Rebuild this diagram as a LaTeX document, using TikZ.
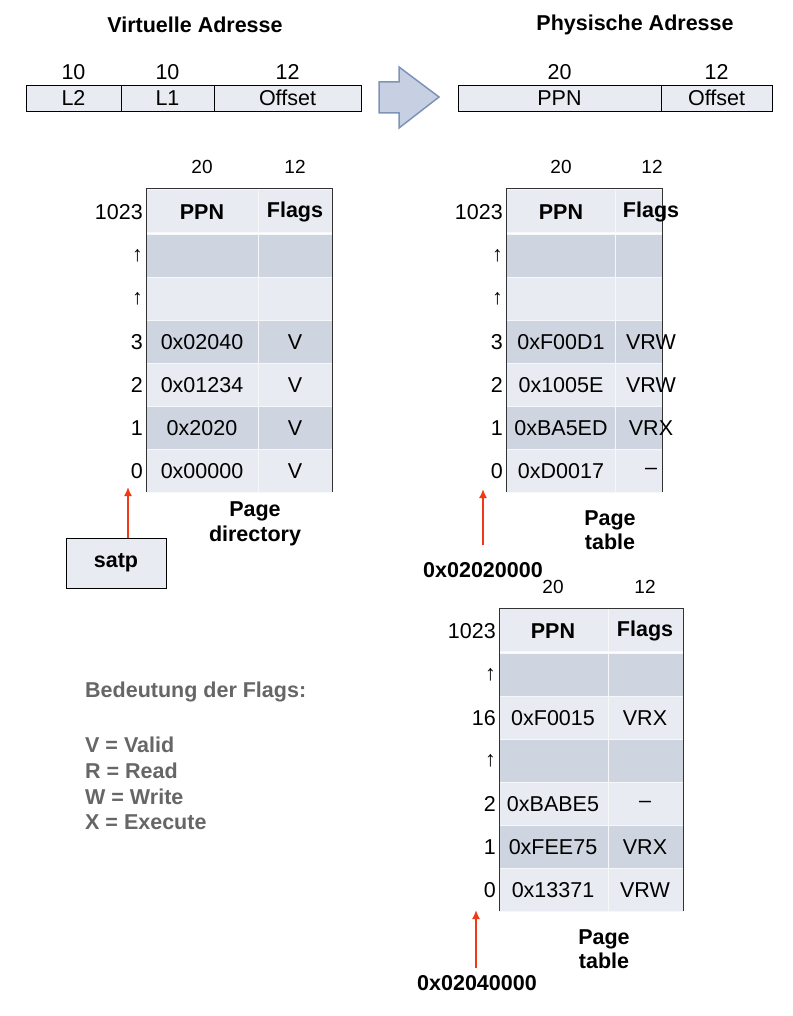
\documentclass[tikz,border=0pt]{standalone}
\usepackage{fontspec}
\setmainfont{Liberation Sans}
\usetikzlibrary{arrows.meta}
\definecolor{cellL}{HTML}{E8EBF1}
\definecolor{cellD}{HTML}{CFD5E0}
\definecolor{redA}{HTML}{F03A17}
\definecolor{arrF}{HTML}{C7D0E2}
\definecolor{arrD}{HTML}{7E93B8}
\begin{document}
\begin{tikzpicture}[x=1pt,y=-1pt,
  lt/.style={fill=cellL,draw=white!80!cellD,line width=0.6pt},
  dk/.style={fill=cellD,draw=white!80!cellD,line width=0.6pt},
  txt/.style={font=\fontsize{21.5}{24}\selectfont,inner sep=0},
  btxt/.style={font=\bfseries\fontsize{21.5}{24}\selectfont,inner sep=0},
  idx/.style={font=\fontsize{21.5}{24}\selectfont,inner sep=0,anchor=east},
  capt/.style={font=\bfseries\fontsize{21.5}{24.5}\selectfont,align=center,inner sep=0},
  sm/.style={font=\fontsize{19}{21}\selectfont,inner sep=0},
  red/.style={draw=redA,line width=1.6pt,-{Latex[length=9pt,width=8pt]}},
  leg/.style={font=\bfseries\fontsize{21.5}{24}\selectfont,text=gray!80!black,anchor=west,inner sep=0}]
\useasboundingbox (0,0) rectangle (792,1016);
% titles
\node[btxt] (tv) at (195,25) {Virtuelle Adresse};
\node[btxt] (tp) at (635,25) {Physische Adresse};
% virtual address bar
\draw[fill=cellL,line width=0.8pt] (26,85) rectangle (361,111);
\draw[line width=0.8pt] (121,85)--(121,111) (214,85)--(214,111);
\node[txt] (l2) at (73.5,98) {L2};
\node[txt] (l1) at (167.5,98) {L1};
\node[txt] (of) at (287.5,98) {Offset};
\node[txt] at (73.5,72) {10};
\node[txt] at (167.5,72) {10};
\node[txt] at (287.5,72) {12};
% physical address bar
\draw[fill=cellL,line width=0.8pt] (458,85) rectangle (772,111);
\draw[line width=0.8pt] (661,85)--(661,111);
\node[txt] (ppn) at (559.5,98) {PPN};
\node[txt] (pof) at (716.5,98) {Offset};
\node[txt] at (559.5,72) {20};
\node[txt] at (716.5,72) {12};
% big arrow
\draw[fill=arrF,draw=arrD,line width=1.5pt] (379,82)--(399,82)--(399,67)--(439,97)--(399,128)--(399,113)--(379,113)--cycle;
% ---- Table 1
\foreach \y/\s in {189/lt,234/dk,277/lt,320/dk,363/lt,406/dk,449/lt}{
  \draw[\s] (146,\y) rectangle (258,\y+43);
  \draw[\s] (258,\y) rectangle (332,\y+43);}
\draw[line width=1pt,draw=black!80] (146,492)--(146,189)--(332,189)--(332,492);
\node[sm] at (202,167) {20}; \node[sm] at (295,167) {12};
\node[btxt] at (202,212) {PPN}; \node[btxt] at (295,212) {Flags};
\node[idx] at (143,212) {1023};
\node[idx] at (143,256) {↑}; \node[idx] at (143,299) {↑};
\foreach \y/\i/\p/\f in {342/3/0x02040/V,385/2/0x01234/V,428/1/0x2020/V,471/0/0x00000/V}{
  \node[idx] at (143,\y) {\i}; \node[txt] at (202,\y) {\p}; \node[txt] at (295,\y) {\f};}
\node[capt] (pd) at (255,524) {Page\\directory};
\node[draw,fill=cellL,line width=1pt,minimum width=100pt,minimum height=50pt,btxt] (satp) at (116,563) {satp};
\coordinate (t1) at (128,487);
\draw[red] (satp.north -| t1) -- (t1);
% ---- Table 2
\foreach \y/\s in {189/lt,234/dk,277/lt,320/dk,363/lt,406/dk,449/lt}{
  \draw[\s] (506,\y) rectangle (615,\y+43);
  \draw[\s] (615,\y) rectangle (662,\y+43);}
\draw[line width=1pt,draw=black!80] (506,492)--(506,189)--(662,189)--(662,492);
\node[sm] at (561,167) {20}; \node[sm] at (652,167) {12};
\node[btxt] at (561,212) {PPN}; \node[btxt] at (651,212) {Flags};
\node[idx] at (503,212) {1023};
\node[idx] at (503,256) {↑}; \node[idx] at (503,299) {↑};
\foreach \y/\i/\p/\f in {342/3/0xF00D1/VRW,385/2/0x1005E/VRW,428/1/0xBA5ED/VRX,471/0/0xD0017/–}{
  \node[idx] at (503,\y) {\i}; \node[txt] at (561,\y) {\p}; \node[txt] at (651,\y) {\f};}
\node[capt] (pt1) at (610,530) {Page\\table};
\node[btxt] (a2) at (483,570) {0x02020000};
\coordinate (t2) at (483,489);
\draw[red] (483,545) -- (t2);
% ---- Table 3
\foreach \y/\s in {608/lt,653/dk,696/lt,739/dk,782/lt,825/dk,868/lt}{
  \draw[\s] (499,\y) rectangle (608,\y+43);
  \draw[\s] (608,\y) rectangle (683,\y+43);}
\draw[line width=1pt,draw=black!80] (499,911)--(499,608)--(683,608)--(683,911);
\node[sm] at (553,587) {20}; \node[sm] at (645,587) {12};
\node[btxt] at (553,631) {PPN}; \node[btxt] at (645,631) {Flags};
\node[idx] at (496,631) {1023};
\node[idx] at (496,675) {↑}; \node[idx] at (496,761) {↑};
\foreach \y/\i/\p/\f in {718/16/0xF0015/VRX,804/2/0xBABE5/–,847/1/0xFEE75/VRX,890/0/0x13371/VRW}{
  \node[idx] at (496,\y) {\i}; \node[txt] at (553,\y) {\p}; \node[txt] at (645,\y) {\f};}
\node[capt] (pt2) at (604,949) {Page\\table};
\node[btxt] (a3) at (477,983) {0x02040000};
\coordinate (t3) at (476,910);
\draw[red] (476,968) -- (t3);
% legend
\node[leg] at (85,692) {Bedeutung der Flags:};
\node[leg] at (85,745) {V = Valid};
\node[leg] at (85,771) {R = Read};
\node[leg] at (85,797) {W = Write};
\node[leg] at (85,822) {X = Execute};
\end{tikzpicture}
\end{document}
